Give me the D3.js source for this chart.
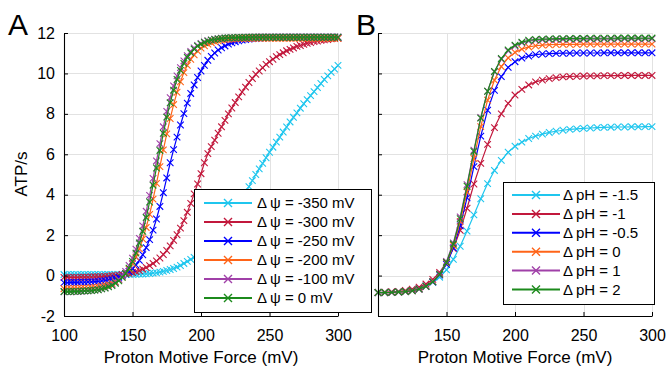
<!DOCTYPE html>
<html><head><meta charset="utf-8">
<script src="https://cdn.jsdelivr.net/npm/d3@7"></script>
<style>
body{margin:0;background:#fff}
text{font-family:"Liberation Sans",Arial,Helvetica,sans-serif;fill:#000}
</style>
</head><body>
<svg id="chart" width="666" height="369"></svg>
<script>
// ---------- data ----------
const pmfA = [100,102.5,105,107.5,110,112.5,115,117.5,120,122.5,125,127.5,130,132.5,135,137.5,140,142.5,145,147.5,150,152.5,155,157.5,160,162.5,165,167.5,170,172.5,175,177.5,180,182.5,185,187.5,190,192.5,195,197.5,200,202.5,205,207.5,210,212.5,215,217.5,220,222.5,225,227.5,230,232.5,235,237.5,240,242.5,245,247.5,250,252.5,255,257.5,260,262.5,265,267.5,270,272.5,275,277.5,280,282.5,285,287.5,290,292.5,295,297.5,300];
const pmfB = [100,105,110,115,120,125,130,135,140,145,150,155,160,165,170,175,180,185,190,195,200,205,210,215,220,225,230,235,240,245,250,255,260,265,270,275,280,285,290,295,300];

const yTicks = [-2,0,2,4,6,8,10,12];
const xTicksA = [100,150,200,250,300];
const xTicksB = [150,200,250,300];

const labelsA = ["Δ\u2009ψ = -350 mV","Δ\u2009ψ = -300 mV","Δ\u2009ψ = -250 mV","Δ\u2009ψ = -200 mV","Δ\u2009ψ = -100 mV","Δ\u2009ψ = 0 mV"];
const labelsB = ["Δ\u2009pH = -1.5","Δ\u2009pH = -1","Δ\u2009pH = -0.5","Δ\u2009pH = 0","Δ\u2009pH = 1","Δ\u2009pH = 2"];
const colors = ["#1fc6ee","#c2183c","#0000ff","#ff6418","#a040a8","#1c8a1c"];

// Panel A: ATP/s vs PMF for different membrane potentials
const atpPsiM350 = [0.05,0.05,0.05,0.05,0.05,0.05,0.05,0.05,0.05,0.05,0.05,0.05,0.05,0.05,0.05,0.05,0.05,0.05,0.06,0.06,0.06,0.06,0.07,0.08,0.09,0.10,0.12,0.14,0.17,0.21,0.25,0.30,0.35,0.42,0.50,0.60,0.70,0.80,0.90,1.02,1.15,1.30,1.45,1.62,1.80,2.00,2.20,2.45,2.70,2.95,3.20,3.50,3.80,4.10,4.40,4.70,5.00,5.28,5.55,5.83,6.10,6.35,6.60,6.85,7.10,7.35,7.60,7.83,8.05,8.28,8.50,8.70,8.90,9.10,9.30,9.50,9.70,9.88,10.05,10.22,10.40];
const atpPsiM300 = [-0.09,-0.09,-0.09,-0.09,-0.09,-0.08,-0.08,-0.08,-0.07,-0.06,-0.06,-0.05,-0.04,-0.03,-0.01,0.00,0.02,0.05,0.08,0.11,0.15,0.20,0.25,0.32,0.40,0.49,0.60,0.72,0.87,1.04,1.24,1.47,1.74,2.02,2.35,2.72,3.13,3.57,4.04,4.53,5.04,5.58,6.03,6.38,6.70,7.04,7.36,7.68,8.00,8.29,8.56,8.84,9.08,9.32,9.55,9.75,9.96,10.12,10.28,10.45,10.58,10.70,10.83,10.93,11.02,11.12,11.19,11.26,11.34,11.38,11.44,11.49,11.53,11.58,11.60,11.64,11.66,11.68,11.71,11.73,11.74];
const atpPsiM250 = [-0.35,-0.35,-0.34,-0.34,-0.34,-0.33,-0.33,-0.32,-0.31,-0.30,-0.29,-0.27,-0.25,-0.22,-0.19,-0.14,-0.08,-0.01,0.09,0.20,0.34,0.52,0.75,1.03,1.38,1.78,2.25,2.80,3.42,4.10,4.83,5.58,6.23,6.85,7.45,8.01,8.53,9.01,9.43,9.80,10.12,10.40,10.65,10.84,11.01,11.16,11.27,11.36,11.45,11.51,11.57,11.61,11.65,11.67,11.70,11.72,11.73,11.74,11.75,11.76,11.76,11.77,11.77,11.78,11.78,11.78,11.78,11.78,11.78,11.78,11.78,11.78,11.78,11.78,11.78,11.78,11.78,11.78,11.78,11.78,11.78];
const atpPsiM200 = [-0.65,-0.65,-0.65,-0.64,-0.64,-0.63,-0.63,-0.62,-0.60,-0.58,-0.56,-0.53,-0.49,-0.45,-0.38,-0.30,-0.20,-0.07,0.11,0.32,0.59,0.91,1.32,1.81,2.38,3.03,3.78,4.56,5.39,6.22,7.01,7.77,8.46,9.07,9.59,10.04,10.40,10.70,10.92,11.11,11.25,11.37,11.45,11.52,11.58,11.61,11.65,11.67,11.69,11.70,11.71,11.72,11.72,11.73,11.73,11.73,11.74,11.74,11.74,11.74,11.74,11.74,11.74,11.74,11.74,11.74,11.74,11.74,11.74,11.74,11.74,11.74,11.74,11.74,11.74,11.74,11.74,11.74,11.74,11.74,11.74];
const atpPsiM100 = [-0.80,-0.80,-0.80,-0.79,-0.79,-0.78,-0.77,-0.76,-0.74,-0.72,-0.69,-0.65,-0.60,-0.53,-0.45,-0.33,-0.19,-0.01,0.21,0.50,0.86,1.31,1.84,2.46,3.18,3.97,4.81,5.67,6.53,7.36,8.12,8.80,9.38,9.88,10.29,10.62,10.88,11.09,11.26,11.39,11.48,11.56,11.62,11.66,11.69,11.72,11.74,11.75,11.76,11.77,11.77,11.78,11.78,11.79,11.79,11.79,11.80,11.80,11.80,11.80,11.80,11.80,11.80,11.80,11.80,11.80,11.80,11.80,11.80,11.80,11.80,11.80,11.80,11.80,11.80,11.80,11.80,11.80,11.80,11.80,11.80];
const atpPsi0 = [-0.79,-0.79,-0.79,-0.78,-0.78,-0.77,-0.76,-0.75,-0.74,-0.72,-0.70,-0.66,-0.62,-0.56,-0.49,-0.38,-0.26,-0.09,0.11,0.37,0.70,1.11,1.61,2.19,2.87,3.64,4.47,5.32,6.19,7.04,7.84,8.55,9.17,9.70,10.15,10.50,10.79,11.02,11.20,11.35,11.45,11.53,11.60,11.65,11.68,11.71,11.73,11.75,11.76,11.77,11.77,11.78,11.78,11.78,11.79,11.79,11.79,11.79,11.79,11.79,11.79,11.79,11.79,11.79,11.79,11.79,11.79,11.79,11.79,11.79,11.79,11.79,11.79,11.79,11.79,11.79,11.79,11.79,11.79,11.79,11.79];

// Panel B: ATP/s vs PMF for different pH gradients
const atpPhM15 = [-0.84,-0.83,-0.82,-0.80,-0.77,-0.72,-0.64,-0.51,-0.32,-0.08,0.28,0.80,1.45,2.20,3.00,3.80,4.55,5.20,5.70,6.10,6.40,6.60,6.78,6.90,7.00,7.08,7.14,7.19,7.23,7.26,7.28,7.30,7.32,7.33,7.34,7.35,7.35,7.36,7.36,7.37,7.37];
const atpPhM1 = [-0.83,-0.82,-0.80,-0.78,-0.74,-0.67,-0.57,-0.42,-0.19,0.16,0.66,1.34,2.24,3.33,4.53,5.55,6.49,7.32,8.00,8.52,8.93,9.21,9.43,9.58,9.67,9.74,9.79,9.83,9.85,9.86,9.87,9.88,9.88,9.89,9.89,9.89,9.90,9.90,9.90,9.90,9.90];
const atpPhM05 = [-0.84,-0.84,-0.83,-0.81,-0.78,-0.73,-0.66,-0.53,-0.32,0.03,0.56,1.37,2.46,3.85,5.39,6.90,8.18,9.16,9.84,10.30,10.58,10.76,10.86,10.93,10.96,10.98,10.99,11.00,11.00,11.01,11.01,11.01,11.01,11.02,11.02,11.02,11.02,11.02,11.02,11.02,11.02];
const atpPh0 = [-0.84,-0.84,-0.83,-0.81,-0.78,-0.74,-0.66,-0.52,-0.30,0.06,0.63,1.49,2.68,4.14,5.79,7.37,8.68,9.67,10.34,10.77,11.04,11.20,11.31,11.37,11.40,11.42,11.43,11.44,11.44,11.44,11.45,11.45,11.45,11.45,11.45,11.45,11.45,11.45,11.45,11.45,11.45];
const atpPh1 = [-0.85,-0.85,-0.84,-0.82,-0.80,-0.76,-0.68,-0.54,-0.30,0.08,0.70,1.62,2.90,4.50,6.20,7.82,9.12,10.08,10.70,11.12,11.36,11.51,11.60,11.64,11.66,11.67,11.68,11.68,11.69,11.69,11.69,11.70,11.70,11.70,11.70,11.71,11.71,11.71,11.71,11.71,11.71];
const atpPh2 = [-0.84,-0.84,-0.83,-0.81,-0.79,-0.75,-0.67,-0.53,-0.31,0.06,0.65,1.56,2.82,4.42,6.14,7.79,9.12,10.10,10.74,11.16,11.40,11.55,11.64,11.68,11.70,11.71,11.72,11.72,11.73,11.73,11.73,11.74,11.74,11.74,11.74,11.75,11.75,11.75,11.75,11.75,11.75];

const seriesA = [atpPsiM350, atpPsiM300, atpPsiM250, atpPsiM200, atpPsiM100, atpPsi0];
const seriesB = [atpPhM15, atpPhM1, atpPhM05, atpPh0, atpPh1, atpPh2];

// ---------- drawing ----------
const svg = d3.select("#chart");
const Y0 = 316, Y1 = 33;
const markerPath = "M-3.3,-3.3L3.3,3.3M-3.3,3.3L3.3,-3.3";
const plainNum = d => String(d);

function panel(o) {
  const x = d3.scaleLinear().domain([100, 300]).range([o.x0, o.x1]);
  const y = d3.scaleLinear().domain([-2, 12]).range([Y0, Y1]);
  const g = svg.append("g");

  // grid
  g.append("g").selectAll("line").data(xTicksA).join("line")
    .attr("x1", d => Math.round(x(d)) + 0.5).attr("x2", d => Math.round(x(d)) + 0.5)
    .attr("y1", Y1).attr("y2", Y0)
    .attr("stroke", "#e2e2e2").attr("stroke-width", 1);
  g.append("g").selectAll("line").data(yTicks).join("line")
    .attr("x1", o.x0).attr("x2", o.x1)
    .attr("y1", d => Math.round(y(d)) + 0.5).attr("y2", d => Math.round(y(d)) + 0.5)
    .attr("stroke", "#e2e2e2").attr("stroke-width", 1);

  // series
  o.series.forEach((vals, i) => {
    const pts = o.xVals.map((xv, k) => [xv, vals[k]]).filter(p => p[1] !== undefined);
    const sg = g.append("g");
    sg.append("path").datum(pts)
      .attr("d", d3.line().x(p => x(p[0])).y(p => y(p[1])))
      .attr("fill", "none").attr("stroke", colors[i]).attr("stroke-width", 1.2);
    sg.selectAll("path.m").data(pts).join("path").attr("class", "m")
      .attr("transform", p => `translate(${x(p[0])},${y(p[1])})`)
      .attr("d", markerPath).attr("fill", "none")
      .attr("stroke", colors[i]).attr("stroke-width", 1.1);
  });

  // axes
  const ax = g.append("g").attr("transform", `translate(0,${Y0})`)
    .call(d3.axisBottom(x).tickValues(o.xTicks).tickSizeInner(-4).tickSizeOuter(0).tickPadding(13.5).tickFormat(plainNum));
  const ay = g.append("g").attr("transform", `translate(${o.x0},0)`)
    .call(d3.axisLeft(y).tickValues(yTicks).tickSizeInner(-4).tickSizeOuter(0).tickPadding(9)
      .tickFormat(o.showY ? plainNum : () => ""));
  [ax, ay].forEach(a => {
    a.selectAll("text").attr("font-size", 16).attr("font-family", '"Liberation Sans", Arial, sans-serif').attr("fill", "#000");
    a.select(".domain").attr("stroke", "#000").attr("stroke-width", 1.1);
    a.selectAll(".tick line").attr("stroke", "#000");
  });

  // x label
  g.append("text").attr("x", (o.x0 + o.x1) / 2).attr("y", 363)
    .attr("text-anchor", "middle").attr("font-size", 17).text("Proton Motive Force (mV)");

  // legend
  const L = o.legend;
  const lg = g.append("g");
  lg.append("rect").attr("x", L.x + 0.5).attr("y", L.y + 0.5).attr("width", L.w).attr("height", L.h)
    .attr("fill", "#fff").attr("stroke", "#000").attr("stroke-width", 1);
  o.labels.forEach((lab, i) => {
    const ry = L.row0 + i * L.dy;
    lg.append("line").attr("x1", L.lx1).attr("x2", L.lx2).attr("y1", ry).attr("y2", ry)
      .attr("stroke", colors[i]).attr("stroke-width", 2);
    lg.append("path").attr("transform", `translate(${(L.lx1 + L.lx2) / 2},${ry})`)
      .attr("d", "M-4,-4L4,4M-4,4L4,-4").attr("fill", "none").attr("stroke", colors[i]).attr("stroke-width", 1.4);
    lg.append("text").attr("x", L.tx).attr("y", ry).attr("dy", "0.36em")
      .attr("font-size", 15).text(lab);
  });

  // panel letter
  svg.append("text").attr("x", o.letterX).attr("y", 35).attr("font-size", 30).text(o.letter);
}

panel({
  x0: 64, x1: 338, xVals: pmfA, series: seriesA, xTicks: xTicksA, showY: true, labels: labelsA,
  legend: { x: 194, y: 189, w: 177, h: 123, row0: 203, dy: 19, lx1: 204, lx2: 252, tx: 257 },
  letter: "A", letterX: 8
});
panel({
  x0: 378, x1: 652, xVals: pmfB, series: seriesB, xTicks: xTicksB, showY: false, labels: labelsB,
  legend: { x: 503, y: 182, w: 151, h: 122, row0: 195, dy: 18.9, lx1: 512, lx2: 560, tx: 563 },
  letter: "B", letterX: 356
});

// y label
svg.append("text").attr("transform", "translate(27,174) rotate(-90)")
  .attr("text-anchor", "middle").attr("font-size", 17).text("ATP/s");
</script>
</body></html>
